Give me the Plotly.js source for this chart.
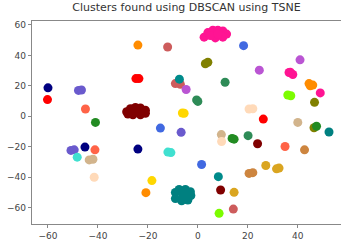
<!DOCTYPE html>
<html>
<head>
<meta charset="utf-8">
<script src="https://cdn.plot.ly/plotly-3.0.1.min.js"></script>
<style>html,body{margin:0;padding:0;background:#fff;}#chart{width:341px;height:245px;}</style>
</head>
<body>
<div id="chart"></div>
<script>
// Points; each point belongs to a cluster id
const pointX = [
  -60, -60.2, -47.8, -46.6, -45, -41,
  -28.5, -27, -25, -23, -21, -21, -23, -26, -28, -25,
  -24, -24.8, -23.6, -12.1,
  -9, -7, -7.5, -7.4, -4.7, -0.5, 0, -6.2, -5.5, 3, 4,
  2.5, 4, 6, 8, 10, 11.5, 10, 7, 5, 8,
  18.3, 10.9, 24.6, 40.9, 36.5, 38, 37, 44.5, 46, 45, 49, 36, 37.2, 46.7,
  20.5, 22, 26.2, 40, 46.5, 47.5, 52.5,
  -15, -6.7, 9.4, 9.5, 13.7, 14.5, 20.1, 23.9, 34.9, 42.7,
  -24, -12, -10.8, -50.8, -49.5, -45.2, -41.2, -48.3, -43.5, -42, -41.5,
  1.5, 20.5, 22, 27.2, 31.5, 32.5, 8.2, -18.4, -20.8,
  -9, -7.5, -5, -3, -2.8, -4, -6.5, -9, -6,
  9.1, 14.5, 14.2, 8.5
];
const pointY = [
  18.7, 11, 17, 17.3, 4.8, -4,
  3, 5, 5.8, 5.5, 4, 2, 1, 1, 1.5, 3,
  46.8, 24.8, 24.8, 45.5,
  21.5, 21, 22.5, 24.4, 17.6, 10.8, 9.8, 2.2, 2, 34.5, 35.5,
  52, 55, 56.5, 56.5, 56, 54, 52, 51.5, 53, 54,
  46.4, 22.4, 30.3, 37.1, 28.8, 27.5, 29, 21.5, 20.5, 20, 15.4, 14, 13.5, 9.2,
  4.8, 5, -1.8, -4, -7.5, -6.5, -10.3,
  -7.7, -10.5, -12, -16.5, -14.5, -15, -12.7, -18, -19.8, -22,
  -21.5, -23.5, -23.8, -22.4, -22, -20.2, -22, -26.8, -28.6, -28.2, -40,
  -31.6, -37.5, -37, -32.3, -34.5, -34, -39.6, -42.2, -50.1,
  -50, -48, -48, -49.5, -52, -55, -55.5, -54, -51.5,
  -48.4, -49.9, -60.9, -63.7
];
const pointCluster = [
  0, 1, 2, 2, 3, 4,
  5, 5, 5, 5, 5, 5, 5, 5, 5, 5,
  6, 7, 7, 8,
  9, 9, 9, 10, 11, 12, 12, 13, 13, 14, 14,
  15, 15, 15, 15, 15, 15, 15, 15, 15, 15,
  16, 17, 18, 19, 20, 20, 20, 21, 21, 21, 22, 23, 23, 24,
  25, 25, 26, 27, 28, 29, 30,
  31, 32, 33, 34, 35, 35, 36, 37, 38, 39,
  40, 41, 41, 42, 42, 43, 44, 45, 46, 46, 47,
  48, 49, 49, 50, 51, 51, 52, 53, 54,
  55, 55, 55, 55, 55, 55, 55, 55, 55,
  56, 57, 58, 59
];

// Colour of each cluster id (style)
const clusterColor = [
  '#000080', '#ff0000', '#6a5acd', '#ff6347', '#228b22',
  '#800000', '#ff8c00', '#ff0000', '#cd5c5c', '#cd5c5c',
  '#008b8b', '#ba55d3', '#2e8b57', '#ffd700', '#808000',
  '#ff1493', '#4169e1', '#2e8b57', '#ba55d3', '#ba55d3',
  '#ff1493', '#ff8c00', '#ff1493', '#7cfc00', '#808000',
  '#ffdab9', '#ff0000', '#d2b48c', '#808000', '#228b22',
  '#008080', '#4169e1', '#6a5acd', '#d2b48c', '#ffdab9',
  '#228b22', '#2e8b57', '#800000', '#ff6347', '#cd853f',
  '#000080', '#40e0d0', '#6a5acd', '#000080', '#ff6347',
  '#40e0d0', '#d2b48c', '#ffdab9', '#4169e1', '#cd853f',
  '#daa520', '#daa520', '#008b8b', '#ffd700', '#ff8c00',
  '#008080', '#800000', '#daa520', '#cd5c5c', '#7cfc00'
];

const xTicks = [-60, -40, -20, 0, 20, 40];
const yTicks = [-60, -40, -20, 0, 20, 40, 60];

const colors = pointCluster.map(c => clusterColor[c]);

const trace = {
  type: 'scatter',
  mode: 'markers',
  x: pointX,
  y: pointY,
  marker: { color: colors, size: 9, line: { width: 0 } },
  hoverinfo: 'x+y'
};

const axisFont = { family: 'DejaVu Sans, sans-serif', size: 9, color: '#444' };
const layout = {
  width: 341,
  height: 245,
  margin: { l: 32, r: 0, t: 21, b: 21 },
  paper_bgcolor: '#fff',
  plot_bgcolor: '#fff',
  showlegend: false,
  title: {
    text: 'Clusters found using DBSCAN using TSNE',
    font: { family: 'DejaVu Sans, sans-serif', size: 11, color: '#333' },
    x: 0.5, xref: 'paper', y: 0.985, yref: 'container', yanchor: 'top'
  },
  xaxis: {
    range: [-66.4, 57.3],
    tickvals: xTicks,
    ticks: 'outside', ticklen: 3, tickcolor: '#888', tickwidth: 1,
    showgrid: false, zeroline: false,
    showline: true, linecolor: '#888', linewidth: 1.3, mirror: true,
    tickfont: axisFont
  },
  yaxis: {
    range: [-70.7, 62.6],
    tickvals: yTicks,
    ticks: 'outside', ticklen: 3, tickcolor: '#888', tickwidth: 1,
    showgrid: false, zeroline: false,
    showline: true, linecolor: '#888', linewidth: 1.3, mirror: false,
    tickfont: axisFont
  }
};

Plotly.newPlot('chart', [trace], layout, { displayModeBar: false, staticPlot: true });
</script>
</body>
</html>
